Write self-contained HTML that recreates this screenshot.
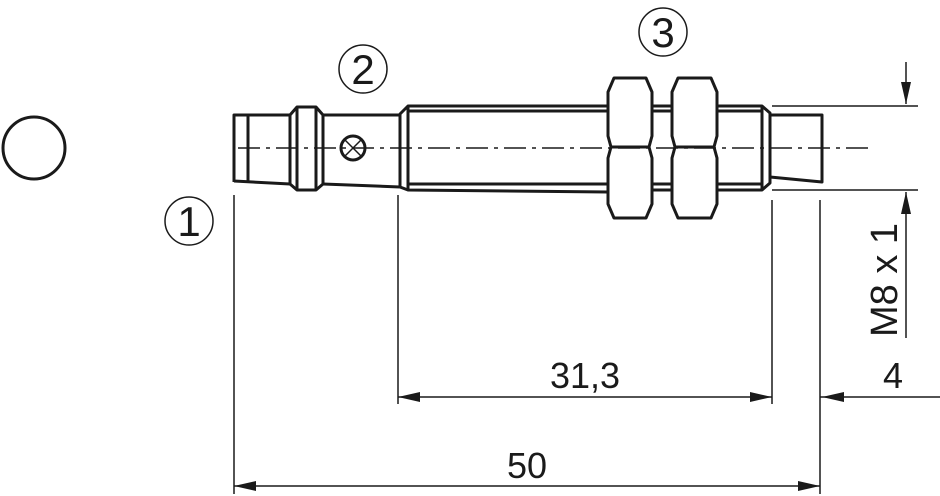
<!DOCTYPE html>
<html><head><style>html,body{margin:0;padding:0;background:#fff}svg{display:block}</style></head><body>
<svg width="940" height="496" viewBox="0 0 940 496" xmlns="http://www.w3.org/2000/svg" font-family="Liberation Sans, sans-serif">
<g fill="none" stroke="#1a1a1a" stroke-width="3" stroke-linejoin="round">
<circle cx="34" cy="148" r="31"/>
<path d="M234 182 V115 H290 M248 115 V181 M234 181 L290 184"/>
<path d="M290 184 V115 L297 107 H316 L323 115 V184 L316 190 H297 Z M297 107 V190 M316 107 V190"/>
<path d="M323 115 H400 M323 184 L400 187"/>
<circle cx="353" cy="148" r="12"/>
<path d="M400 187 V114 L408 106 H608 M408 106 V190 L400 187 M408 111 H608 M408 184 H608 M408 190 L608 192"/>
<path d="M652 111 H672 M652 106 H672 M652 184 H672 M652 190 H672"/>
<path d="M717 106 H762 L770 113 V183 L762 190 H717 M717 111 H762 M717 184 H762 M762 106 V190"/>
<path d="M614 78 H646 L652 92 V136 L649 147 L652 158 V204 L646 218 H614 L608 204 V158 L611 147 L608 136 V92 Z M611 147 H649"/>
<path d="M678 78 H711 L717 92 V136 L714 147 L717 158 V204 L711 218 H678 L672 204 V158 L675 147 L672 136 V92 Z M675 147 H714"/>
<path d="M770 115 H822 V182 L770 177"/>
</g>
<g stroke="#1a1a1a" stroke-width="1.5" fill="none">
<line x1="345" y1="140" x2="361" y2="156"/><line x1="361" y1="140" x2="345" y2="156"/>
<line x1="238" y1="148" x2="868" y2="148" stroke-dasharray="22,6,4,6"/>
<circle cx="189" cy="221" r="24"/><circle cx="363" cy="69" r="24"/><circle cx="663" cy="32" r="24"/>
<line x1="772" y1="106" x2="918" y2="106"/><line x1="772" y1="190" x2="918" y2="190"/>
<line x1="906" y1="62" x2="906" y2="104"/><line x1="906" y1="192" x2="906" y2="338"/>
<line x1="234" y1="195" x2="234" y2="494"/><line x1="398" y1="195" x2="398" y2="404"/>
<line x1="772" y1="200" x2="772" y2="404"/><line x1="820" y1="200" x2="820" y2="494"/>
<line x1="398" y1="397" x2="772" y2="397"/><line x1="820" y1="397" x2="940" y2="397"/>
<line x1="234" y1="486" x2="820" y2="486"/>
</g>
<g fill="#1a1a1a">
<path d="M906 104 L901 82 H911 Z"/><path d="M906 192 L901 214 H911 Z"/>
<path d="M398 397 L420 392 V402 Z"/><path d="M772 397 L750 392 V402 Z"/>
<path d="M822 397 L844 392 V402 Z"/>
<path d="M234 486 L256 481 V491 Z"/><path d="M820 486 L798 481 V491 Z"/>
<text x="189" y="236" font-size="42" text-anchor="middle">1</text>
<text x="363" y="84" font-size="42" text-anchor="middle">2</text>
<text x="663" y="47" font-size="42" text-anchor="middle">3</text>
<text x="585" y="388" font-size="36" text-anchor="middle">31,3</text>
<text x="893" y="388" font-size="36" text-anchor="middle">4</text>
<text x="527" y="478" font-size="36" text-anchor="middle">50</text>
<text transform="translate(897,280) rotate(-90)" font-size="38" text-anchor="middle">M8 x 1</text>
</g>
</svg>
</body></html>
